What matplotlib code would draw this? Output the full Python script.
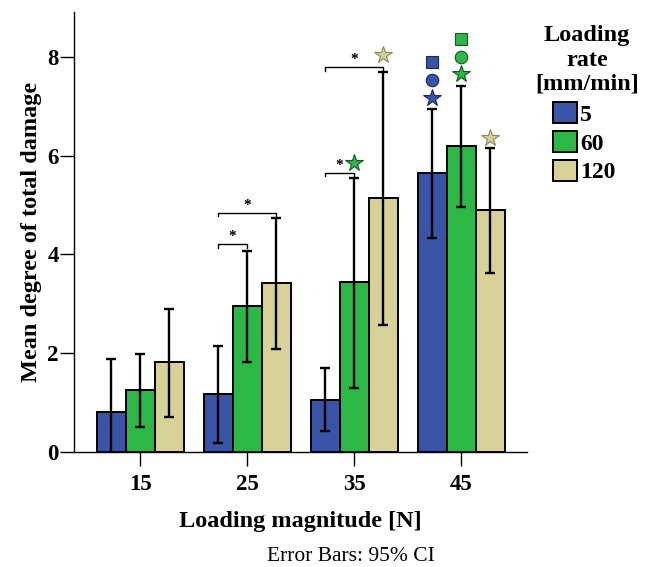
import numpy as np
import matplotlib
matplotlib.use('Agg')
import matplotlib.pyplot as plt

plt.rcParams['font.family'] = ['Liberation Serif', 'DejaVu Serif']

magnitudes = ['15', '25', '35', '45']
rates = ['5', '60', '120']
colors = ['#3953a6', '#2bb844', '#d7d198']

# mean degree of total damage per rate, then lower / upper 95% CI
means = {
    '5': [0.82, 1.17, 1.06, 5.64],
    '60': [1.25, 2.95, 3.44, 6.20],
    '120': [1.82, 3.42, 5.14, 4.90],
}
ci_low = {
    '5': [-0.25, 0.18, 0.42, 4.33],
    '60': [0.50, 1.82, 1.30, 4.97],
    '120': [0.70, 2.08, 2.57, 3.62],
}
ci_high = {
    '5': [1.88, 2.14, 1.70, 6.95],
    '60': [1.98, 4.08, 5.55, 7.42],
    '120': [2.90, 4.74, 7.70, 6.15],
}

# significance brackets: group, from series, to series, height
brackets = [
    (1, 0, 1, 4.21),
    (1, 0, 2, 4.84),
    (2, 0, 1, 5.65),
    (2, 0, 2, 7.79),
]

# symbols above bars: group, series, height, marker
symbols = [
    (2, 1, 5.85, '*'),
    (2, 2, 8.04, '*'),
    (3, 0, 7.17, '*'),
    (3, 0, 7.53, 'o'),
    (3, 0, 7.89, 's'),
    (3, 1, 7.65, '*'),
    (3, 1, 8.00, 'o'),
    (3, 1, 8.36, 's'),
    (3, 2, 6.36, '*'),
]

fig = plt.figure(figsize=(6.52, 5.67), dpi=100)
ax = fig.add_axes([0.1135, 0.2028, 0.695, 0.776])

x = np.arange(len(magnitudes))
w = 0.271
offsets = [-w, 0, w]

handles = []
for i, r in enumerate(rates):
    xs = x + offsets[i]
    m = np.array(means[r])
    lo = m - np.array(ci_low[r])
    hi = np.array(ci_high[r]) - m
    b = ax.bar(xs, m, width=w, color=colors[i], edgecolor='black',
               linewidth=1.4, label=r, zorder=2)
    handles.append(b)
    ax.errorbar(xs, m, yerr=[lo, hi], fmt='none', ecolor='black',
                elinewidth=1.7, capsize=3.6, capthick=1.7, zorder=3)

for g, s1, s2, h in brackets:
    x1 = x[g] + offsets[s1]
    x2 = x[g] + offsets[s2]
    ax.plot([x1, x1, x2, x2], [h - 0.07, h, h, h - 0.07], color='black',
            linewidth=1.0, zorder=4, clip_on=False)
    ax.text((x1 + x2) / 2, h + 0.03, '*', ha='center', va='bottom',
            fontsize=11, fontweight='bold', zorder=4)

for g, s, h, mk in symbols:
    xs = x[g] + offsets[s]
    edge = '#8a8660' if s == 2 else '#1a2a60' if s == 0 else '#145a20'
    size = 13 if mk == '*' else 9
    ax.plot(xs, h, marker=mk, markersize=size, color=colors[s],
            markeredgecolor=edge, markeredgewidth=0.8, linestyle='none',
            clip_on=False, zorder=5)

ax.set_xlim(-0.617, 3.617)
ax.set_ylim(0, 8.91)
ax.set_xticks(x)
ax.set_xticklabels(magnitudes)
ax.set_yticks([0, 2, 4, 6, 8])
for side in ['top', 'right']:
    ax.spines[side].set_visible(False)
ax.spines['left'].set_linewidth(1.0)
ax.spines['bottom'].set_linewidth(1.0)
ax.tick_params(axis='both', direction='out', length=10, width=1.0,
               labelsize=16.5)
ax.tick_params(axis='x', pad=6)
ax.tick_params(axis='y', pad=1)
for lab in ax.get_xticklabels() + ax.get_yticklabels():
    lab.set_fontweight('bold')

ax.set_xlabel('Loading magnitude [N]', fontsize=17.5, fontweight='bold',
              labelpad=11)
ax.set_ylabel('Mean degree of total damage', fontsize=17.5, fontweight='bold',
              labelpad=4)

fig.text(0.538, 0.019, 'Error Bars: 95% CI', ha='center', va='center',
         fontsize=15.5)

# legend title drawn separately so it can sit centred over the swatches
fig.text(0.900, 0.894, 'Loading\nrate\n[mm/min]', ha='center', va='center',
         fontsize=17.5, fontweight='bold', multialignment='center')

leg = fig.legend(handles=handles, labels=rates, loc='upper left',
                 bbox_to_anchor=(0.848, 0.820), frameon=False,
                 fontsize=17, handlelength=1.0, handleheight=1.0,
                 handletextpad=0.15, labelspacing=0.22,
                 borderpad=0.0, borderaxespad=0.0)
for t in leg.get_texts():
    t.set_fontweight('bold')

fig.savefig('out.png', dpi=100)
